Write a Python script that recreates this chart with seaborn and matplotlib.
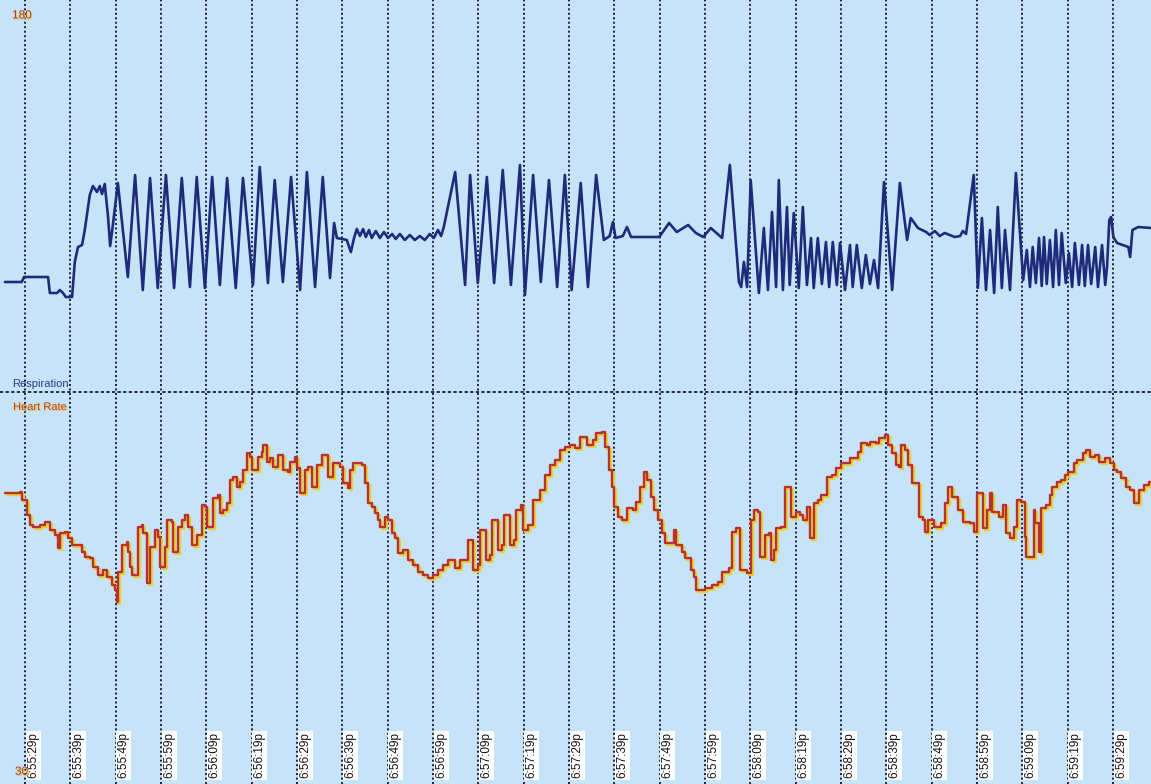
import matplotlib
matplotlib.use("Agg")
import matplotlib.pyplot as plt
import matplotlib.patheffects as pe
import pandas as pd
import seaborn as sns

# Respiration belt signal (arbitrary units), seconds after 6:55:29 PM
resp_time = [
    -4.4, -0.7, -0.2, 5.1, 5.5, 7.1, 7.7, 8.4, 9.0, 10.4, 11.0, 11.7, 12.6, 13.2, 14.3,
    15.0, 15.9, 16.5, 17.0, 17.6, 18.3, 18.8, 19.4,
    20.5, 22.7, 24.3, 26.0, 27.6, 29.3, 31.1, 32.9, 34.6, 36.4, 37.9, 39.7, 41.3, 43.0,
    44.6, 46.5, 48.1, 50.3, 51.8, 53.6, 55.1, 56.9, 58.7, 60.7, 62.2, 64.0, 65.7, 67.3,
    68.2, 68.8, 71.0, 71.9, 72.6,
    73.2, 73.9, 74.6, 75.2, 75.9, 76.5, 77.4, 78.3, 79.2, 80.1, 81.0, 81.8, 82.7, 83.8,
    84.9, 86.0, 87.1, 88.2, 89.3, 90.2, 91.1, 91.8, 92.4,
    94.9, 97.1, 98.2, 99.9, 101.9, 103.5, 105.4, 107.2, 109.2, 110.3, 112.1, 113.8,
    115.6, 117.4, 119.1, 120.6, 122.6, 124.2, 126.0,
    127.7, 129.0, 129.7, 130.3, 131.9, 132.8, 133.7, 139.9, 142.1, 143.8, 146.3, 148.0,
    149.6, 151.3, 153.8, 155.5, 157.5, 158.0, 158.6, 159.3, 160.1, 161.9,
    163.0, 163.9, 164.8, 165.7, 166.3, 167.2, 168.1, 168.7, 169.6, 170.7, 171.6, 172.5,
    173.4, 174.0, 174.9, 175.8, 176.7, 177.4, 178.2, 179.1, 179.8, 180.9, 182.0, 182.6,
    183.5, 184.6, 185.5, 186.4, 187.3, 188.2,
    189.5, 191.3, 193.0, 194.6, 195.4, 197.0, 198.8, 199.6, 200.7, 201.8, 202.9, 204.0,
    205.1, 206.3, 206.9, 207.6, 209.3, 210.2,
    211.1, 212.0, 212.9, 213.8, 214.6, 215.5, 216.2, 217.3, 218.6, 220.2,
    221.0, 221.7, 222.3, 223.0, 223.7, 224.3, 224.8, 225.4, 226.1, 226.8, 227.4, 228.1,
    228.7, 229.6, 230.3, 231.0, 231.6, 232.5, 233.2, 233.8, 234.5, 235.2, 236.1, 236.7,
    237.6, 238.3,
    238.7, 239.2, 239.6, 240.1, 240.9, 243.4, 243.8, 244.3, 245.6, 248.4,
]
resp_value = [
    18, 18, 23, 23, 7, 7, 10, 7, 3, 3, 38, 53, 55, 70, 105,
    114, 108, 114, 106, 116, 85, 54, 75,
    117, 23, 125, 10, 122, 12, 125, 12, 122, 13, 123, 12, 123, 15,
    122, 12, 122, 15, 133, 17, 120, 18, 123, 10, 128, 13, 123, 22,
    77, 62, 60, 48, 62,
    71, 64, 71, 63, 70, 62, 69, 62, 68, 62, 66, 61, 66, 60,
    65, 60, 64, 60, 66, 62, 70, 64, 73,
    128, 15, 125, 17, 123, 17, 130, 15, 135, 5, 125, 18,
    120, 13, 125, 10, 117, 13, 125,
    60, 64, 78, 62, 64, 73, 63, 63, 77, 68, 75, 67,
    63, 72, 62, 135, 18, 13, 38, 13, 120, 7,
    72, 10, 88, 13, 120, 10, 93, 15, 87, 12, 93, 15,
    62, 12, 62, 16, 58, 13, 58, 15, 57, 10, 55, 13,
    55, 12, 45, 16, 40, 12,
    118, 10, 117, 60, 82, 72, 68, 65, 69, 64, 67, 65,
    63, 64, 69, 66, 125, 12,
    82, 10, 70, 7, 93, 12, 70, 10, 127, 20,
    50, 13, 53, 17, 62, 14, 63, 16, 60, 13, 70, 15,
    67, 17, 47, 13, 57, 15, 55, 14, 55, 16, 53, 13,
    55, 15,
    33, 80, 83, 63, 57, 53, 43, 70, 73, 72,
]

# Beat-to-beat heart rate (bpm)
hr_time = [
    -4.4, -1.1, -0.7, 0.4, 1.1, 1.8, 3.3, 4.4, 5.5, 6.6, 7.3, 7.7, 8.8, 9.5, 10.4, 11.7,
    12.6, 13.2, 14.3, 15.0, 16.1, 17.2, 18.1, 19.2, 19.9, 20.3, 20.5, 21.4, 22.5, 22.7,
    23.2, 23.6, 24.9, 25.8, 26.0, 26.9, 27.6, 28.7, 29.3, 29.8, 30.9, 31.3, 32.4, 32.6,
    33.7, 34.6, 35.3, 36.0, 36.8, 37.9, 39.0, 39.7, 40.1, 41.5, 42.6, 43.0, 43.7, 44.6,
    45.2, 45.9, 46.8, 47.4, 48.1, 49.0, 49.6, 50.1, 51.4, 52.3, 52.5, 53.4, 54.0, 54.7,
    55.8, 56.9, 58.0, 58.5, 59.6, 60.0, 60.7, 61.8, 62.4, 63.3, 64.4, 65.5, 66.8, 67.9,
    69.5, 70.1, 71.3, 71.7, 72.4, 74.3, 75.0, 75.7, 76.5, 77.2, 77.9, 78.3, 79.4, 80.1,
    81.0, 81.6, 82.3, 83.4, 84.5, 85.6, 86.7, 87.8, 88.9, 90.0, 91.1, 92.2, 93.3, 94.9,
    96.0, 97.7, 98.8, 99.9, 100.4, 101.7, 102.6, 103.0, 104.3, 105.2, 105.7, 107.0,
    107.9, 108.3, 109.4, 109.9, 111.0, 112.1, 113.6, 114.7, 115.8, 116.9, 118.0, 119.1,
    120.2, 121.3, 122.4, 124.0, 125.3, 126.0, 127.3, 127.9, 128.8, 129.5, 129.9, 130.8,
    131.7, 132.8, 134.1, 134.8, 135.7, 136.5, 137.2, 138.1, 138.8, 139.6, 140.5, 141.2,
    143.2, 143.6, 144.9, 145.6, 146.9, 147.6, 148.0, 150.0, 151.5, 152.9, 153.8, 155.3,
    156.0, 156.8, 157.7, 159.3, 160.1, 160.8, 161.7, 162.1, 163.2, 164.1, 164.6, 165.2,
    165.7, 166.8, 167.6, 169.0, 170.1, 171.0, 171.6, 172.5, 173.2, 174.0, 174.9, 175.6,
    176.9, 178.0, 178.9, 180.0, 182.0, 183.7, 184.4, 185.7, 186.4, 187.7, 188.4, 189.7,
    190.4, 191.3, 192.1, 192.8, 193.2, 194.1, 194.8, 195.7, 197.2, 198.1, 198.5, 199.2,
    200.5, 202.1, 202.9, 203.6, 204.5, 205.8, 206.9, 208.5, 209.3, 210.0, 211.3, 212.2,
    212.9, 213.3, 214.9, 215.7, 216.4, 217.3, 218.2, 218.8, 219.7, 220.6, 220.8, 222.6,
    222.8, 223.7, 224.1, 225.2, 226.1, 226.5, 227.6, 228.5, 229.4, 230.1, 231.4, 232.1,
    233.4, 234.0, 234.9, 236.0, 236.9, 238.2, 239.3, 240.2, 240.9, 241.8, 242.9, 243.8,
    244.6, 245.7, 246.8, 247.9, 248.4,
]
hr_bpm = [
    85.7, 85.9, 84.3, 81.5, 79.6, 79.2, 79.6, 80.1, 78.6, 77.6, 75.2, 78.0, 78.2, 77.1, 75.7, 75.7,
    74.4, 73.4, 73.2, 71.5, 70.0, 70.9, 69.6, 68.1, 67.1, 64.8, 70.6, 75.7, 76.3, 74.4,
    71.5, 70.0, 79.2, 79.6, 78.0, 68.5, 75.3, 78.6, 77.3, 71.5, 75.3, 80.5, 80.1, 74.4,
    79.2, 80.5, 81.5, 79.2, 75.7, 77.6, 83.4, 83.0, 79.2, 84.7, 85.3, 81.8, 82.4, 83.8,
    88.2, 88.7, 86.8, 87.8, 90.1, 93.3, 92.6, 90.1, 92.6, 93.5, 94.9, 91.6, 92.4, 90.6,
    93.0, 90.1, 89.7, 91.6, 92.6, 90.5, 85.7, 90.1, 90.6, 86.8, 91.0, 93.0, 88.7, 91.4,
    90.6, 87.6, 86.6, 90.1, 91.4, 91.0, 87.6, 83.8, 83.0, 81.8, 80.5, 79.2, 81.1, 80.5,
    78.0, 77.1, 74.2, 74.8, 72.9, 71.9, 70.6, 70.0, 69.4, 70.0, 70.9, 71.9, 72.9, 71.3,
    72.9, 76.7, 70.9, 71.9, 78.6, 72.9, 73.8, 80.5, 74.8, 75.7, 81.5, 75.7,
    76.7, 82.4, 83.4, 78.6, 79.6, 84.3, 86.2, 89.1, 91.0, 92.0, 93.9, 94.5,
    94.9, 94.3, 96.4, 94.9, 95.8, 97.2, 97.3, 94.5, 90.1, 86.8, 83.0, 81.1,
    80.5, 82.8, 82.4, 84.0, 86.8, 89.7, 88.2, 84.9, 82.4, 80.5, 78.0, 76.1,
    78.6, 75.7, 74.4, 73.2, 70.9, 69.6, 67.1, 67.5, 68.1, 68.6, 70.6, 71.3,
    78.2, 79.0, 70.9, 70.4, 80.5, 82.4, 82.0, 73.4, 77.6, 78.0, 72.9, 74.8,
    79.0, 79.2, 86.8, 81.1, 82.0, 81.5, 80.5, 83.0, 77.1, 83.8, 84.3, 85.3,
    88.7, 89.1, 90.5, 91.4, 92.4, 93.5, 95.2, 94.9, 95.4, 95.2, 96.2, 96.8,
    94.9, 93.3, 91.0, 90.6, 94.9, 93.9, 91.0, 87.6, 81.1, 80.5, 78.2, 80.5,
    79.2, 79.9, 83.8, 86.8, 84.9, 82.4, 80.1, 79.9, 78.2, 85.7, 79.0, 82.4,
    85.7, 82.0, 81.1, 83.4, 78.0, 77.1, 79.2, 84.3, 84.0, 77.3, 73.4, 82.4,
    79.9, 74.4, 82.8, 83.4, 85.3, 86.8, 87.8, 88.2, 89.1, 89.7, 91.4, 92.0,
    93.3, 93.9, 92.6, 93.0, 91.6, 92.4, 91.4, 90.1, 89.7, 88.5, 86.8, 86.2,
    83.8, 86.2, 87.2, 87.8, 87.8,
]

tick_seconds = list(range(0, 250, 10))
tick_labels = [
    "6:55:29p", "6:55:39p", "6:55:49p", "6:55:59p", "6:56:09p", "6:56:19p", "6:56:29p",
    "6:56:39p", "6:56:49p", "6:56:59p", "6:57:09p", "6:57:19p", "6:57:29p", "6:57:39p",
    "6:57:49p", "6:57:59p", "6:58:09p", "6:58:19p", "6:58:29p", "6:58:39p", "6:58:49p",
    "6:58:59p", "6:59:09p", "6:59:19p", "6:59:29p",
]

sns.set_theme(style="white")
plt.rcParams["font.family"] = ["Liberation Sans", "DejaVu Sans"]

resp_df = pd.DataFrame({"time": resp_time, "resp": resp_value})
hr_df = pd.DataFrame({"time": hr_time, "bpm": hr_bpm})

fig = plt.figure(figsize=(11.51, 7.84), dpi=100)
ax = fig.add_axes([0, 0, 1, 1])
ax.set_facecolor("#c6e3f7")
ax2 = ax.twinx()

grid_col = "#1b1f3d"
red = "#b9302c"
yellow = "#e8cf3c"
navy = "#1f2b7a"

# heart rate channel (lower half, 30-180 bpm scale)
sns.lineplot(data=hr_df, x="time", y="bpm", ax=ax, color=red, linewidth=1.7,
             estimator=None, sort=False, drawstyle="steps-post",
             path_effects=[pe.SimpleLineShadow(offset=(1.3, -1.3), shadow_color=yellow, alpha=1.0),
                           pe.Normal()], zorder=3)

# respiration channel (upper half)
sns.lineplot(data=resp_df, x="time", y="resp", ax=ax2, color=navy, linewidth=1.9,
             estimator=None, sort=False, zorder=3)

ax.set_xlim(-5.5, 248.4)
ax.set_ylim(30, 180)
ax2.set_ylim(-484, 300)

for a in (ax, ax2):
    a.set_xlabel("")
    a.set_ylabel("")
    a.tick_params(length=0, labelbottom=False, labelleft=False, labelright=False)
    for s in a.spines.values():
        s.set_visible(False)
ax2.set_yticks([])

ax.set_xticks(tick_seconds)
ax.set_yticks([])
ax.grid(axis="x", color=grid_col, linestyle=(0, (1.0, 1.3)), linewidth=1.4)
ax.axhline(105, color=grid_col, linestyle=(0, (1.8, 1.3)), linewidth=1.3, zorder=2)

# time stamps along the bottom
for t, lab in zip(tick_seconds, tick_labels):
    ax.annotate(lab, xy=(t, 0), xycoords=("data", "axes fraction"),
                xytext=(1.6, 4.2), textcoords="offset points",
                rotation=90, ha="left", va="bottom", fontsize=8.5, color="#111111",
                bbox=dict(facecolor="white", edgecolor="none", pad=1.0), zorder=5)

shadow = [pe.withSimplePatchShadow(offset=(0.8, -0.8), shadow_rgbFace=yellow, alpha=1.0)]
ax.text(0.0104, 0.988, "180", transform=ax.transAxes, ha="left", va="top",
        fontsize=8.5, color=red, path_effects=shadow, zorder=5)
ax.text(0.013, 0.008, "30", transform=ax.transAxes, ha="left", va="bottom",
        fontsize=8.5, color=red, path_effects=shadow, zorder=5)
ax.text(0.0104, 0.506, "Respiration", transform=ax.transAxes, ha="left", va="baseline",
        fontsize=8, color="#2a3a8c", zorder=5)
ax.text(0.0113, 0.477, "Heart Rate", transform=ax.transAxes, ha="left", va="baseline",
        fontsize=8, color="#c0392b", path_effects=shadow, zorder=5)

fig.savefig("out.png", dpi=100)
